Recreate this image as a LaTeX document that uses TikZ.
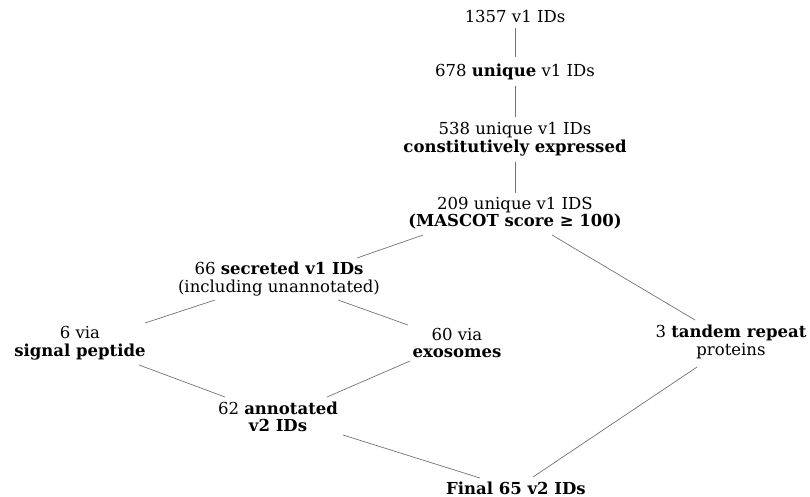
\documentclass[tikz,border=0pt]{standalone}
\usepackage{fontspec}
\setmainfont{DejaVu Serif}
\begin{document}
\begin{tikzpicture}[x=1pt,y=-1pt,
  lbl/.style={align=center,inner sep=2pt,font=\fontsize{16.5}{17.5}\selectfont},
  conn/.style={draw=black!55,line width=0.7pt}]
\useasboundingbox (0,0) rectangle (810,497);
\node[lbl] (n1) at (515,16) {1357 v1 IDs};
\node[lbl] (n2) at (515,72) {678 \textbf{unique} v1 IDs};
\node[lbl] (n3) at (515,139) {538 unique v1 IDs\\\textbf{constitutively expressed}};
\node[lbl] (n4) at (515,213) {209 unique v1 IDS\\\textbf{(MASCOT score ≥ 100)}};
\node[lbl] (n5) at (279,279) {66 \textbf{secreted v1 IDs}\\(including unannotated)};
\node[lbl] (n6) at (80,343) {6 via\\\textbf{signal peptide}};
\node[lbl] (n7) at (457,343) {60 via\\\textbf{exosomes}};
\node[lbl] (n8) at (731,342) {3 \textbf{tandem repeat}\\proteins};
\node[lbl] (n9) at (278,417) {62 \textbf{annotated}\\\textbf{v2 IDs}};
\node[lbl] (n10) at (516,488) {\textbf{Final 65 v2 IDs}};
\coordinate (a1) at (515,28); \coordinate (b1) at (515,57);
\coordinate (a2) at (515,86); \coordinate (b2) at (515,117);
\coordinate (a3) at (515,162); \coordinate (b3) at (515,193);
\draw[conn] (a1) -- (b1);
\draw[conn] (a2) -- (b2);
\draw[conn] (a3) -- (b3);
\coordinate (c1) at (423,235); \coordinate (d1) at (357,258);
\coordinate (c2) at (552,235); \coordinate (d2) at (695,320);
\coordinate (c3) at (215,300); \coordinate (d3) at (145,323);
\coordinate (c4) at (338,300); \coordinate (d4) at (408,325);
\coordinate (c5) at (139,365); \coordinate (d5) at (225,397);
\coordinate (c6) at (410,361); \coordinate (d6) at (327,397);
\coordinate (c7) at (343,435); \coordinate (d7) at (480,478);
\coordinate (c8) at (697,367); \coordinate (d8) at (533,477);
\draw[conn] (c1) -- (d1);
\draw[conn] (c2) -- (d2);
\draw[conn] (c3) -- (d3);
\draw[conn] (c4) -- (d4);
\draw[conn] (c5) -- (d5);
\draw[conn] (c6) -- (d6);
\draw[conn] (c7) -- (d7);
\draw[conn] (c8) -- (d8);
\end{tikzpicture}
\end{document}
